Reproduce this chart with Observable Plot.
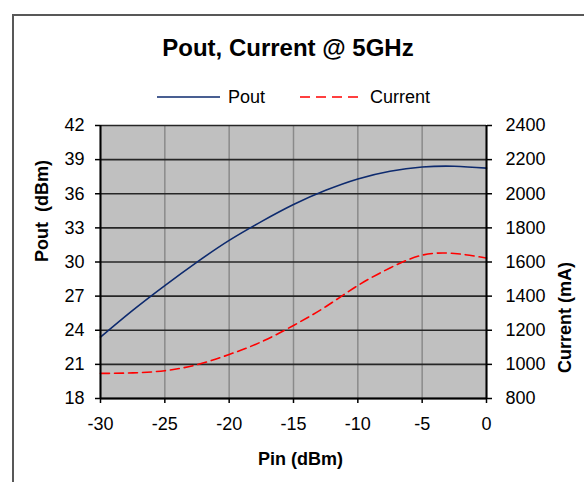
<!DOCTYPE html>
<html>
<head>
<meta charset="utf-8">
<script src="https://cdn.jsdelivr.net/npm/d3@7"></script>
<script src="https://cdn.jsdelivr.net/npm/@observablehq/plot@0.6"></script>
<style>
  html, body { margin: 0; padding: 0; background: #fff; }
  body { width: 584px; height: 482px; position: relative; overflow: hidden; font-family: "Liberation Sans", Arial, sans-serif; color: #000; }
  #chart { position: absolute; left: 0; top: 0; }
  #frame { position: absolute; left: 12px; top: 14px; width: 640px; height: 540px; border: 2px solid #585858; box-sizing: border-box; pointer-events: none; }
  #title { position: absolute; left: 0; top: 36px; width: 576px; text-align: center; font-size: 24px; line-height: 24px; font-weight: bold; }
  .leg { position: absolute; font-size: 18px; line-height: 18px; top: 88px; }
  .sw { position: absolute; top: 92px; }
</style>
</head>
<body>
<div id="chart"></div>
<div id="title">Pout, Current @ 5GHz</div>
<svg class="sw" style="left:157px" width="64" height="10"><line x1="0" x2="63" y1="5" y2="5" stroke="#0d2a6e" stroke-width="1.6"/></svg>
<div class="leg" style="left:228px">Pout</div>
<svg class="sw" style="left:300px" width="62" height="10"><line x1="0" x2="60" y1="5" y2="5" stroke="#ff0000" stroke-width="1.6" stroke-dasharray="10,6"/></svg>
<div class="leg" style="left:370px">Current</div>
<div id="frame"></div>
<script>
// Data
const pin     = [-30, -27.5, -25, -22.5, -20, -17.5, -15, -12.5, -10, -7.5, -5, -2.5, 0];
const pout    = [23.4, 25.75, 27.93, 29.99, 31.9, 33.55, 35.05, 36.3, 37.3, 37.98, 38.35, 38.42, 38.25];
const current = [947, 950, 963, 998, 1058, 1132, 1228, 1338, 1462, 1565, 1640, 1650, 1623];
const pinTicks = [-30, -25, -20, -15, -10, -5, 0];
const poutTicks = [18, 21, 24, 27, 30, 33, 36, 39, 42];
const currentTicks = [800, 1000, 1200, 1400, 1600, 1800, 2000, 2200, 2400];

// secondary axis mapping: current (800..2400) -> pout scale (18..42)
const toY = c => 18 + (c - 800) * 24 / 1600;
const fromY = v => 800 + (v - 18) * 1600 / 24;

const rows = pin.map((p, i) => ({pin: p, pout: pout[i], cur: toY(current[i])}));

const font = "Liberation Sans, Arial, sans-serif";

const chart = Plot.plot({
  width: 584,
  height: 482,
  marginTop: 125,
  marginBottom: 84,
  marginLeft: 100,
  marginRight: 98,
  style: {fontFamily: font, fontSize: "18px", color: "#000", background: "transparent", overflow: "visible"},
  x: {domain: [-30, 0]},
  y: {domain: [18, 42]},
  marks: [
    Plot.frame({fill: "#c0c0c0", stroke: null}),
    Plot.gridX(pinTicks, {stroke: "#8a8a8a", strokeOpacity: 1, strokeWidth: 1.5}),
    Plot.gridY(poutTicks, {stroke: "#262626", strokeOpacity: 1, strokeWidth: 1.6}),
    Plot.line(rows, {x: "pin", y: "cur", stroke: "#ff0000", strokeWidth: 1.6, strokeDasharray: "9,5", curve: "natural"}),
    Plot.line(rows, {x: "pin", y: "pout", stroke: "#0d2a6e", strokeWidth: 1.6, curve: "natural"}),
    Plot.ruleX([-30, 0], {stroke: "#000", strokeWidth: 2}),
    Plot.ruleY([18], {stroke: "#000", strokeWidth: 2}),
    Plot.axisX(pinTicks, {anchor: "bottom", tickSize: 5, tickPadding: 14, fontSize: 18, stroke: "#000", strokeWidth: 1.5, label: null, tickFormat: d => String(d)}),
    Plot.axisY(poutTicks, {anchor: "left", tickSize: 5, tickPadding: 11, fontSize: 18, stroke: "#000", strokeWidth: 1.5, label: null}),
    Plot.axisY(currentTicks.map(toY), {anchor: "right", tickSize: 5, tickPadding: 14, fontSize: 18, stroke: "#000", strokeWidth: 1.5, label: null, tickFormat: v => String(Math.round(fromY(v)))}),
    Plot.text(["Pout  (dBm)"], {text: d => d, frameAnchor: "left", dx: -58, rotate: -90, fontSize: 18, fontWeight: "bold", fill: "#000"}),
    Plot.text(["Current (mA)"], {text: d => d, frameAnchor: "right", dx: 79, rotate: -90, fontSize: 18, fontWeight: "bold", fill: "#000"}),
    Plot.text(["Pin (dBm)"], {text: d => d, frameAnchor: "bottom", dx: 7, dy: 66, fontSize: 18, fontWeight: "bold", fill: "#000"})
  ]
});
document.getElementById("chart").appendChild(chart);
</script>
</body>
</html>
